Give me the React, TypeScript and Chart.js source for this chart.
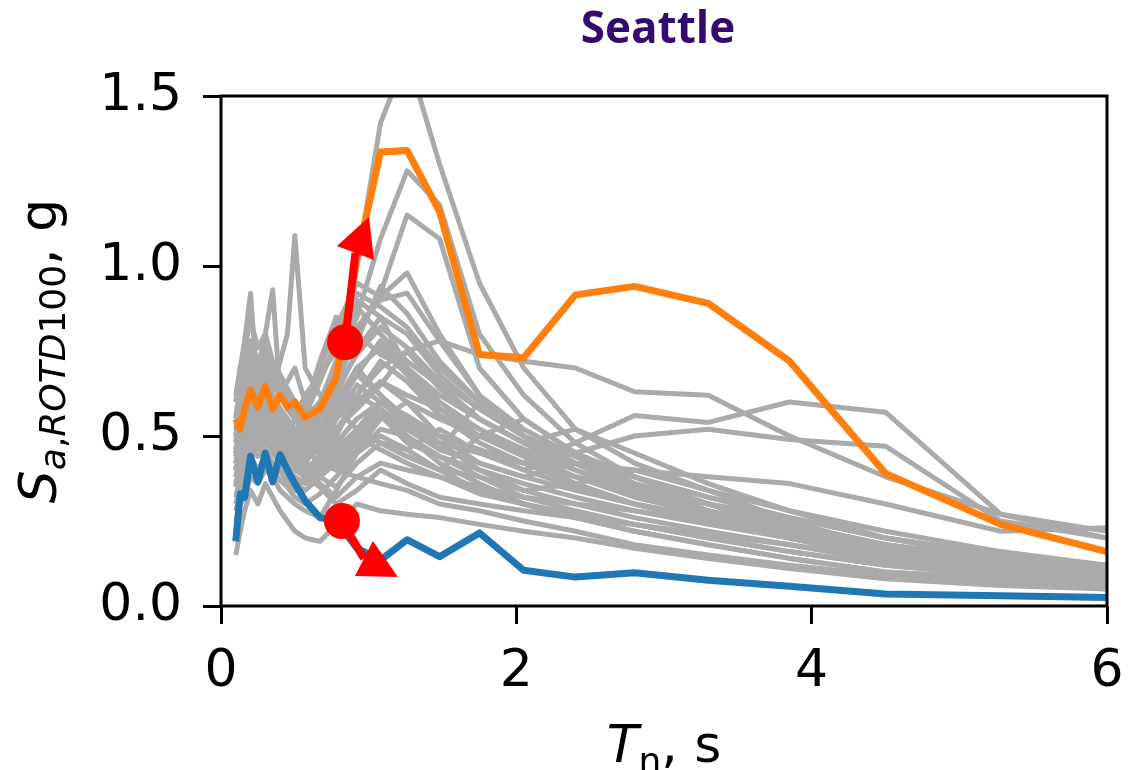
import React, { useEffect, useRef } from 'react';
import { Chart, registerables } from 'chart.js';

Chart.register(...registerables);

// ---------- data ----------
const periods = [0.1, 0.13, 0.16, 0.2, 0.25, 0.3, 0.35, 0.4, 0.45, 0.5, 0.57, 0.67, 0.78, 0.92, 1.08, 1.26, 1.48, 1.75, 2.05, 2.4, 2.8, 3.3, 3.85, 4.5, 5.28, 6.0];

const orangeSa = [0.55, 0.52, 0.58, 0.635, 0.585, 0.645, 0.58, 0.62, 0.585, 0.6, 0.555, 0.58, 0.67, 1.02, 1.335, 1.34, 1.16, 0.74, 0.73, 0.915, 0.94, 0.89, 0.72, 0.39, 0.24, 0.16];
const blueSa = [0.19, 0.33, 0.32, 0.44, 0.365, 0.45, 0.365, 0.445, 0.4, 0.36, 0.31, 0.26, 0.25, 0.17, 0.135, 0.195, 0.145, 0.215, 0.105, 0.085, 0.098, 0.076, 0.058, 0.035, 0.03, 0.025];

const g01 = [0.45, 0.5, 0.56, 0.6, 0.57, 0.62, 0.58, 0.64, 0.66, 0.7, 0.6, 0.55, 0.62, 1.0, 1.42, 1.62, 1.3, 0.95, 0.7, 0.52, 0.42, 0.34, 0.25, 0.17, 0.12, 0.09];
const g02 = [0.5, 0.55, 0.62, 0.7, 0.66, 0.72, 0.65, 0.62, 0.6, 0.58, 0.52, 0.6, 0.72, 0.85, 1.08, 1.28, 1.18, 0.8, 0.62, 0.48, 0.38, 0.3, 0.22, 0.16, 0.11, 0.08];
const g03 = [0.4, 0.46, 0.52, 0.58, 0.55, 0.6, 0.54, 0.57, 0.52, 0.5, 0.48, 0.55, 0.65, 0.8, 0.92, 1.15, 1.08, 0.7, 0.55, 0.45, 0.36, 0.28, 0.2, 0.14, 0.1, 0.07];
const g04 = [0.6, 0.7, 0.78, 0.92, 0.62, 0.7, 0.6, 0.58, 0.55, 0.52, 0.48, 0.45, 0.4, 0.38, 0.36, 0.34, 0.3, 0.28, 0.25, 0.22, 0.18, 0.15, 0.12, 0.09, 0.07, 0.05];
const g05 = [0.5, 0.58, 0.55, 0.65, 0.7, 0.8, 0.93, 0.62, 0.58, 0.55, 0.6, 0.52, 0.48, 0.5, 0.46, 0.42, 0.38, 0.33, 0.3, 0.26, 0.22, 0.18, 0.14, 0.1, 0.08, 0.06];
const g06 = [0.45, 0.52, 0.6, 0.58, 0.62, 0.66, 0.64, 0.72, 0.8, 1.09, 0.7, 0.62, 0.58, 0.52, 0.48, 0.44, 0.4, 0.34, 0.3, 0.27, 0.24, 0.2, 0.16, 0.12, 0.09, 0.07];
const g07 = [0.42, 0.48, 0.5, 0.55, 0.52, 0.56, 0.5, 0.48, 0.46, 0.5, 0.55, 0.7, 0.82, 0.95, 0.91, 0.98, 0.8, 0.62, 0.5, 0.4, 0.33, 0.26, 0.2, 0.14, 0.1, 0.07];
const g08 = [0.35, 0.4, 0.45, 0.5, 0.48, 0.52, 0.47, 0.45, 0.42, 0.4, 0.45, 0.55, 0.72, 0.88, 0.8, 0.72, 0.65, 0.55, 0.48, 0.42, 0.36, 0.3, 0.24, 0.18, 0.13, 0.1];
const g09 = [0.4, 0.45, 0.48, 0.52, 0.5, 0.54, 0.5, 0.48, 0.45, 0.44, 0.42, 0.48, 0.55, 0.62, 0.7, 0.75, 0.78, 0.74, 0.72, 0.7, 0.63, 0.62, 0.5, 0.38, 0.27, 0.2];
const g10 = [0.38, 0.42, 0.46, 0.5, 0.48, 0.52, 0.48, 0.5, 0.47, 0.45, 0.42, 0.4, 0.42, 0.5, 0.58, 0.52, 0.48, 0.45, 0.42, 0.48, 0.56, 0.54, 0.6, 0.57, 0.27, 0.22];
const g11 = [0.36, 0.4, 0.44, 0.48, 0.46, 0.5, 0.46, 0.44, 0.42, 0.4, 0.38, 0.42, 0.48, 0.55, 0.6, 0.56, 0.5, 0.46, 0.4, 0.45, 0.5, 0.52, 0.49, 0.47, 0.25, 0.2];
const g12 = [0.15, 0.22, 0.28, 0.34, 0.3, 0.36, 0.32, 0.28, 0.25, 0.22, 0.2, 0.19, 0.24, 0.3, 0.28, 0.27, 0.26, 0.24, 0.22, 0.2, 0.17, 0.14, 0.11, 0.08, 0.06, 0.05];
const g13 = [0.25, 0.3, 0.32, 0.38, 0.36, 0.4, 0.38, 0.34, 0.32, 0.3, 0.28, 0.26, 0.34, 0.45, 0.52, 0.5, 0.42, 0.36, 0.3, 0.26, 0.22, 0.18, 0.14, 0.1, 0.08, 0.06];
const g14 = [0.3, 0.36, 0.4, 0.44, 0.4, 0.42, 0.38, 0.4, 0.36, 0.34, 0.38, 0.45, 0.55, 0.7, 0.62, 0.55, 0.48, 0.4, 0.34, 0.3, 0.26, 0.22, 0.18, 0.13, 0.1, 0.08];
const g15 = [0.48, 0.55, 0.6, 0.66, 0.6, 0.64, 0.58, 0.55, 0.52, 0.48, 0.46, 0.52, 0.6, 0.68, 0.78, 0.7, 0.6, 0.52, 0.46, 0.4, 0.34, 0.28, 0.22, 0.16, 0.12, 0.09];
const g16 = [0.42, 0.48, 0.54, 0.58, 0.55, 0.58, 0.55, 0.52, 0.5, 0.55, 0.62, 0.68, 0.75, 0.9, 0.85, 0.7, 0.56, 0.48, 0.42, 0.36, 0.3, 0.25, 0.2, 0.15, 0.11, 0.08];
const g17 = [0.38, 0.44, 0.48, 0.52, 0.5, 0.55, 0.52, 0.5, 0.48, 0.46, 0.5, 0.58, 0.62, 0.58, 0.66, 0.62, 0.58, 0.5, 0.55, 0.45, 0.38, 0.3, 0.24, 0.18, 0.13, 0.1];
const g18 = [0.46, 0.52, 0.58, 0.62, 0.58, 0.6, 0.56, 0.52, 0.48, 0.45, 0.4, 0.38, 0.35, 0.42, 0.48, 0.46, 0.52, 0.45, 0.4, 0.35, 0.3, 0.26, 0.21, 0.16, 0.12, 0.09];
const g19 = [0.52, 0.6, 0.66, 0.72, 0.65, 0.7, 0.62, 0.58, 0.55, 0.5, 0.46, 0.42, 0.4, 0.46, 0.55, 0.6, 0.5, 0.42, 0.38, 0.42, 0.38, 0.32, 0.26, 0.2, 0.15, 0.11];
const g20 = [0.35, 0.4, 0.44, 0.48, 0.46, 0.48, 0.45, 0.42, 0.4, 0.38, 0.36, 0.4, 0.46, 0.52, 0.48, 0.44, 0.4, 0.38, 0.34, 0.36, 0.4, 0.34, 0.28, 0.22, 0.16, 0.12];
const g21 = [0.44, 0.5, 0.55, 0.6, 0.56, 0.58, 0.54, 0.5, 0.46, 0.42, 0.4, 0.44, 0.5, 0.62, 0.72, 0.66, 0.56, 0.5, 0.45, 0.38, 0.32, 0.27, 0.22, 0.17, 0.13, 0.1];
const g22 = [0.32, 0.38, 0.42, 0.46, 0.44, 0.46, 0.42, 0.4, 0.38, 0.36, 0.34, 0.38, 0.42, 0.48, 0.56, 0.48, 0.44, 0.38, 0.32, 0.28, 0.24, 0.2, 0.16, 0.12, 0.09, 0.07];
const g23 = [0.5, 0.56, 0.62, 0.68, 0.62, 0.66, 0.6, 0.56, 0.52, 0.48, 0.44, 0.48, 0.52, 0.58, 0.65, 0.75, 0.64, 0.55, 0.48, 0.52, 0.45, 0.36, 0.28, 0.2, 0.14, 0.1];
const g24 = [0.4, 0.46, 0.52, 0.56, 0.52, 0.56, 0.52, 0.48, 0.45, 0.42, 0.4, 0.36, 0.32, 0.38, 0.42, 0.4, 0.38, 0.35, 0.32, 0.3, 0.28, 0.25, 0.22, 0.18, 0.14, 0.11];
const g25 = [0.45, 0.5, 0.56, 0.6, 0.56, 0.6, 0.56, 0.52, 0.48, 0.46, 0.44, 0.46, 0.52, 0.6, 0.66, 0.6, 0.55, 0.5, 0.46, 0.42, 0.4, 0.38, 0.36, 0.3, 0.22, 0.23];
const g26 = [0.55, 0.62, 0.68, 0.74, 0.68, 0.72, 0.66, 0.62, 0.58, 0.55, 0.5, 0.55, 0.62, 0.75, 0.85, 0.8, 0.68, 0.58, 0.5, 0.42, 0.35, 0.28, 0.22, 0.16, 0.12, 0.09];
const g27 = [0.28, 0.33, 0.37, 0.42, 0.4, 0.44, 0.4, 0.37, 0.35, 0.32, 0.3, 0.33, 0.38, 0.45, 0.5, 0.46, 0.4, 0.5, 0.44, 0.36, 0.3, 0.25, 0.2, 0.15, 0.11, 0.08];
const g28 = [0.6, 0.66, 0.72, 0.78, 0.72, 0.76, 0.7, 0.66, 0.62, 0.58, 0.52, 0.5, 0.55, 0.65, 0.6, 0.55, 0.5, 0.46, 0.42, 0.38, 0.34, 0.3, 0.26, 0.2, 0.15, 0.12];
const g29 = [0.38, 0.42, 0.48, 0.54, 0.5, 0.52, 0.5, 0.46, 0.44, 0.42, 0.46, 0.52, 0.58, 0.68, 0.62, 0.52, 0.46, 0.6, 0.5, 0.42, 0.35, 0.28, 0.22, 0.16, 0.12, 0.09];
const g30 = [0.42, 0.48, 0.52, 0.56, 0.54, 0.56, 0.52, 0.48, 0.44, 0.42, 0.38, 0.35, 0.3, 0.34, 0.4, 0.36, 0.32, 0.3, 0.28, 0.26, 0.24, 0.21, 0.18, 0.14, 0.11, 0.08];
const g31 = [0.48, 0.54, 0.58, 0.64, 0.6, 0.62, 0.58, 0.54, 0.5, 0.46, 0.42, 0.4, 0.44, 0.52, 0.6, 0.54, 0.46, 0.42, 0.38, 0.34, 0.3, 0.26, 0.22, 0.17, 0.13, 0.1];
const g32 = [0.36, 0.42, 0.46, 0.5, 0.48, 0.5, 0.46, 0.44, 0.42, 0.4, 0.44, 0.5, 0.56, 0.62, 0.58, 0.5, 0.44, 0.4, 0.36, 0.32, 0.28, 0.24, 0.2, 0.15, 0.11, 0.08];
const g33 = [0.5, 0.56, 0.6, 0.64, 0.6, 0.62, 0.58, 0.55, 0.52, 0.5, 0.56, 0.66, 0.78, 0.92, 0.88, 0.82, 0.7, 0.6, 0.5, 0.42, 0.35, 0.28, 0.22, 0.16, 0.12, 0.09];
const g34 = [0.44, 0.5, 0.54, 0.6, 0.56, 0.6, 0.55, 0.52, 0.5, 0.48, 0.52, 0.6, 0.68, 0.78, 0.94, 0.86, 0.72, 0.6, 0.5, 0.42, 0.34, 0.28, 0.22, 0.16, 0.12, 0.09];
const g35 = [0.56, 0.64, 0.7, 0.76, 0.7, 0.74, 0.68, 0.64, 0.6, 0.56, 0.55, 0.6, 0.7, 0.82, 0.9, 0.92, 0.78, 0.62, 0.52, 0.44, 0.36, 0.3, 0.24, 0.18, 0.13, 0.1];
const g36 = [0.46, 0.52, 0.58, 0.62, 0.58, 0.6, 0.56, 0.54, 0.5, 0.5, 0.58, 0.72, 0.85, 0.8, 0.74, 0.7, 0.62, 0.55, 0.48, 0.4, 0.33, 0.27, 0.21, 0.15, 0.11, 0.08];
const g37 = [0.4, 0.46, 0.5, 0.54, 0.52, 0.54, 0.5, 0.48, 0.46, 0.44, 0.48, 0.56, 0.64, 0.74, 0.82, 0.76, 0.66, 0.58, 0.5, 0.44, 0.38, 0.32, 0.26, 0.2, 0.15, 0.11];
const g38 = [0.62, 0.7, 0.76, 0.84, 0.76, 0.8, 0.72, 0.68, 0.64, 0.6, 0.56, 0.55, 0.6, 0.7, 0.76, 0.68, 0.58, 0.52, 0.46, 0.4, 0.34, 0.28, 0.23, 0.17, 0.13, 0.1];

const graySeries = [g01, g02, g03, g04, g05, g06, g07, g08, g09, g10, g11, g12, g13, g14, g15, g16, g17, g18, g19, g20, g21, g22, g23, g24, g25, g26, g27, g28, g29, g30, g31, g32, g33, g34, g35, g36, g37, g38];

const xTicks = [0, 2, 4, 6];
const yTicks = [0, 0.5, 1.0, 1.5];

const titleText = 'Seattle';

// red annotations (data coordinates): dot, arrow-head tip, two head corners
const arrowDots = [[0.84, 0.776], [0.819, 0.25]];
const arrowTips = [[1.002, 1.144], [1.198, 0.085]];
const arrowCornersA = [[0.785, 1.059], [1.029, 0.191]];
const arrowCornersB = [[1.036, 1.018], [0.907, 0.088]];

// ---------- helpers ----------
type Seg = { t: string; font: string; dy: number };

function drawSegs(ctx: CanvasRenderingContext2D, segs: Seg[], cx: number, baseY: number) {
  let total = 0;
  const widths = segs.map((s) => {
    ctx.font = s.font;
    const w = ctx.measureText(s.t).width;
    total += w;
    return w;
  });
  let x = cx - total / 2;
  ctx.textAlign = 'left';
  ctx.textBaseline = 'alphabetic';
  segs.forEach((s, i) => {
    ctx.font = s.font;
    ctx.fillText(s.t, x, baseY + s.dy);
    x += widths[i];
  });
}

const F = '"DejaVu Sans"';

const decorPlugin = {
  id: 'decor',
  afterDatasetsDraw(chart: any) {
    const { ctx, chartArea: a, scales } = chart;
    const xs = scales.x;
    const ys = scales.y;
    ctx.save();
    ctx.fillStyle = '#ff0000';
    ctx.strokeStyle = '#ff0000';
    for (let i = 0; i < arrowDots.length; i++) {
      const cx = xs.getPixelForValue(arrowDots[i][0]);
      const cy = ys.getPixelForValue(arrowDots[i][1]);
      const tx = xs.getPixelForValue(arrowTips[i][0]);
      const ty = ys.getPixelForValue(arrowTips[i][1]);
      const ax = xs.getPixelForValue(arrowCornersA[i][0]);
      const ay = ys.getPixelForValue(arrowCornersA[i][1]);
      const bx = xs.getPixelForValue(arrowCornersB[i][0]);
      const by = ys.getPixelForValue(arrowCornersB[i][1]);
      const mx = (ax + bx) / 2;
      const my = (ay + by) / 2;
      ctx.lineWidth = 8;
      ctx.lineCap = 'butt';
      ctx.beginPath();
      ctx.moveTo(cx, cy);
      ctx.lineTo(mx, my);
      ctx.stroke();
      ctx.beginPath();
      ctx.moveTo(tx, ty);
      ctx.lineTo(ax, ay);
      ctx.lineTo(bx, by);
      ctx.closePath();
      ctx.fill();
      ctx.beginPath();
      ctx.arc(cx, cy, 18, 0, Math.PI * 2);
      ctx.fill();
    }
    ctx.strokeStyle = '#000';
    ctx.lineWidth = 3;
    ctx.strokeRect(a.left, a.top, a.right - a.left, a.bottom - a.top);
    ctx.restore();
  },
  afterDraw(chart: any) {
    const { ctx, chartArea: a } = chart;
    ctx.save();
    ctx.fillStyle = '#330a6e';
    ctx.font = 'bold 44px "Open Sans"';
    ctx.textAlign = 'center';
    ctx.textBaseline = 'alphabetic';
    ctx.fillText(titleText, 658, 43);
    ctx.fillStyle = '#000';
    drawSegs(
      ctx,
      [
        { t: 'T', font: `italic 52px ${F}`, dy: 0 },
        { t: 'n', font: `36px ${F}`, dy: 11 },
        { t: ', s', font: `52px ${F}`, dy: 0 },
      ],
      (a.left + a.right) / 2,
      762
    );
    ctx.translate(56, (a.top + a.bottom) / 2);
    ctx.rotate(-Math.PI / 2);
    drawSegs(
      ctx,
      [
        { t: 'S', font: `italic 52px ${F}`, dy: 0 },
        { t: 'a', font: `italic 36px ${F}`, dy: 9 },
        { t: ',', font: `36px ${F}`, dy: 9 },
        { t: 'ROTD', font: `italic 36px ${F}`, dy: 9 },
        { t: '100', font: `36px ${F}`, dy: 9 },
        { t: ', g', font: `52px ${F}`, dy: 0 },
      ],
      0,
      0
    );
    ctx.restore();
  },
};

function toPoints(arr: number[]) {
  return periods.map((t, i) => ({ x: t, y: arr[i] }));
}

export default function App() {
  const ref = useRef<HTMLCanvasElement | null>(null);
  useEffect(() => {
    if (!ref.current) return;
    const datasets: any[] = [
      { data: toPoints(orangeSa), borderColor: '#ff7f0e', borderWidth: 7 },
      { data: toPoints(blueSa), borderColor: '#1f77b4', borderWidth: 7 },
      ...graySeries.map((g) => ({ data: toPoints(g), borderColor: '#aaaaaa', borderWidth: 5 })),
    ].map((d) => ({
      ...d,
      pointRadius: 0,
      tension: 0,
      fill: false,
      clip: 0,
      borderJoinStyle: 'round',
      borderCapStyle: 'butt',
    }));
    const chart = new Chart(ref.current, {
      type: 'line',
      data: { datasets },
      options: {
        responsive: false,
        devicePixelRatio: 1,
        animation: false,
        events: [],
        layout: { padding: { left: 0, right: 21, top: 96, bottom: 0 } },
        plugins: { legend: { display: false }, tooltip: { enabled: false }, title: { display: false } },
        scales: {
          x: {
            type: 'linear',
            min: 0,
            max: 6,
            afterBuildTicks: (s: any) => {
              s.ticks = xTicks.map((v) => ({ value: v }));
            },
            afterFit: (s: any) => {
              s.height = 164;
              s.paddingLeft = 0;
              s.paddingRight = 0;
            },
            ticks: {
              font: { family: 'DejaVu Sans', size: 52 },
              color: '#000',
              padding: 17,
              maxRotation: 0,
              autoSkip: false,
              callback: (v: any) => String(v),
            },
            grid: { display: true, drawOnChartArea: false, drawTicks: true, tickLength: 18, tickWidth: 3, tickColor: '#000' },
            border: { display: false },
          },
          y: {
            type: 'linear',
            min: 0,
            max: 1.5,
            afterBuildTicks: (s: any) => {
              s.ticks = yTicks.map((v) => ({ value: v }));
            },
            afterFit: (s: any) => {
              s.width = 221;
              s.paddingTop = 0;
              s.paddingBottom = 0;
            },
            ticks: {
              font: { family: 'DejaVu Sans', size: 52 },
              color: '#000',
              padding: 21,
              autoSkip: false,
              callback: (v: any) => Number(v).toFixed(1),
            },
            grid: { display: true, drawOnChartArea: false, drawTicks: true, tickLength: 18, tickWidth: 3, tickColor: '#000' },
            border: { display: false },
          },
        },
      },
      plugins: [decorPlugin],
    });
    return () => chart.destroy();
  }, []);
  return (
    <div style={{ position: 'absolute', left: 0, top: 0, width: 1128, height: 770, background: '#fff' }}>
      <canvas ref={ref} width={1128} height={770} style={{ display: 'block' }} />
    </div>
  );
}
